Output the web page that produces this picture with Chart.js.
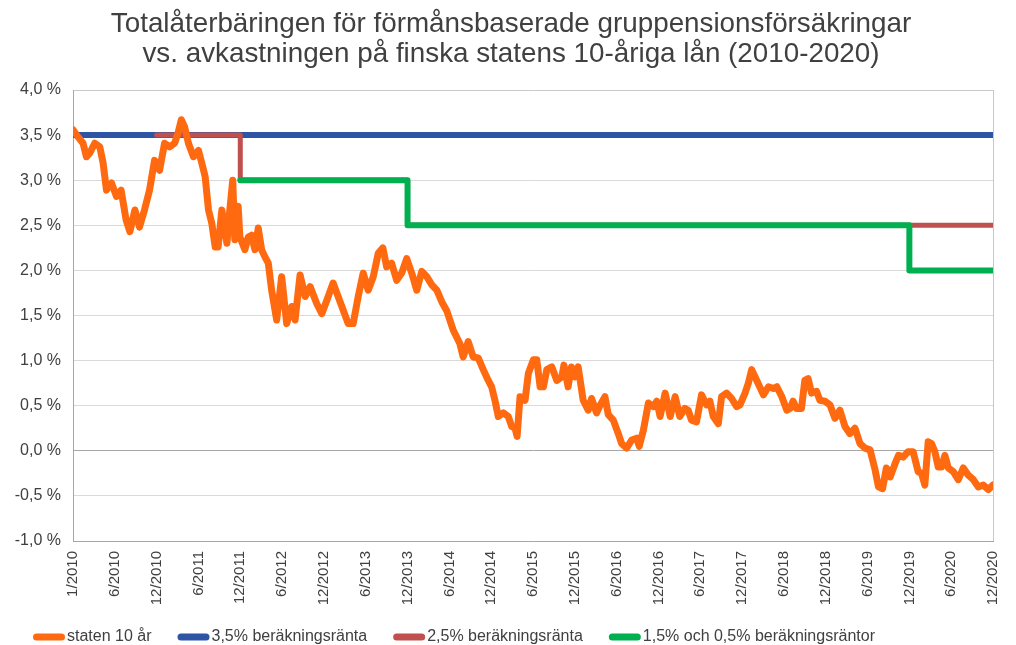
<!DOCTYPE html>
<html lang="sv">
<head>
  <meta charset="UTF-8" />
  <title>Totalåterbäringen vs. finska statens 10-åriga lån</title>
  <script src="https://cdn.jsdelivr.net/npm/chart.js"></script>
  <style>
    * { margin: 0; padding: 0; box-sizing: border-box; }
    html, body { width: 1016px; height: 645px; background: #fff; overflow: hidden; }
    #wrap { position: relative; width: 1016px; height: 645px; }
  </style>
</head>
<body>
  <div id="wrap">
    <canvas id="chart" width="1016" height="645"></canvas>
  </div>

  <script>
    const titleLines = ['Totalåterbäringen för förmånsbaserade gruppensionsförsäkringar',
      'vs. avkastningen på finska statens 10-åriga lån (2010-2020)'];

    // x axis: one unit = one label step (half a year), 1/2010 = 0 ... 12/2020 = 22
    const xLabels = ['1/2010', '6/2010', '12/2010', '6/2011', '12/2011', '6/2012', '12/2012',
      '6/2013', '12/2013', '6/2014', '12/2014', '6/2015', '12/2015', '6/2016', '12/2016',
      '6/2017', '12/2017', '6/2018', '12/2018', '6/2019', '12/2019', '6/2020', '12/2020'];

    // staten 10 år
    const bondPos = [0.00, 0.12, 0.24, 0.32, 0.40, 0.52, 0.64, 0.72, 0.80, 0.92, 1.04, 1.15, 1.27, 1.36,
      1.48, 1.59, 1.71, 1.83, 1.95, 2.07, 2.19, 2.31, 2.43, 2.51, 2.59, 2.67, 2.76, 2.88, 3.00, 3.08,
      3.16, 3.24, 3.32, 3.40, 3.47, 3.56, 3.68, 3.75, 3.82, 3.87, 3.95, 3.99, 4.11, 4.19, 4.27, 4.35,
      4.43, 4.51, 4.59, 4.67, 4.75, 4.87, 4.99, 5.11, 5.23, 5.31, 5.43, 5.55, 5.67, 5.83, 5.95, 6.07,
      6.22, 6.34, 6.46, 6.58, 6.70, 6.82, 6.94, 7.06, 7.18, 7.30, 7.41, 7.50, 7.62, 7.74, 7.86, 7.98,
      8.10, 8.22, 8.34, 8.46, 8.58, 8.70, 8.82, 8.94, 9.09, 9.25, 9.33, 9.45, 9.57, 9.69, 9.81, 9.93,
      10.01, 10.09, 10.17, 10.29, 10.41, 10.49, 10.57, 10.62, 10.69, 10.81, 10.89, 11.01, 11.09, 11.17,
      11.25, 11.33, 11.45, 11.57, 11.69, 11.74, 11.84, 11.92, 12.00, 12.08, 12.20, 12.32, 12.40, 12.52,
      12.60, 12.72, 12.80, 12.92, 13.04, 13.12, 13.24, 13.36, 13.48, 13.54, 13.64, 13.76, 13.88, 13.96,
      14.04, 14.16, 14.28, 14.40, 14.51, 14.63, 14.71, 14.79, 14.91, 15.03, 15.15, 15.23, 15.31, 15.43,
      15.51, 15.63, 15.75, 15.87, 15.95, 16.07, 16.15, 16.23, 16.35, 16.51, 16.63, 16.75, 16.83, 16.95,
      17.07, 17.15, 17.22, 17.30, 17.42, 17.50, 17.58, 17.66, 17.78, 17.86, 17.98, 18.10, 18.22, 18.34,
      18.46, 18.58, 18.70, 18.82, 18.94, 19.06, 19.18, 19.26, 19.36, 19.45, 19.54, 19.66, 19.74, 19.85,
      19.97, 20.09, 20.21, 20.29, 20.37, 20.45, 20.53, 20.61, 20.69, 20.77, 20.85, 20.93, 21.05, 21.17,
      21.29, 21.41, 21.53, 21.65, 21.77, 21.89, 22.00];
    const bondYield = [3.56, 3.48, 3.41, 3.26, 3.30, 3.41, 3.37, 3.19, 2.89, 2.97, 2.82, 2.89, 2.56, 2.43,
      2.67, 2.48, 2.67, 2.89, 3.22, 3.11, 3.41, 3.37, 3.41, 3.52, 3.67, 3.59, 3.41, 3.26, 3.33, 3.19,
      3.04, 2.67, 2.52, 2.26, 2.26, 2.67, 2.30, 2.67, 3.00, 2.34, 2.71, 2.37, 2.23, 2.37, 2.39, 2.23,
      2.47, 2.23, 2.15, 2.08, 1.78, 1.45, 1.93, 1.41, 1.60, 1.45, 1.95, 1.71, 1.82, 1.63, 1.52, 1.67,
      1.86, 1.71, 1.56, 1.41, 1.41, 1.71, 1.97, 1.78, 1.93, 2.19, 2.25, 2.04, 2.08, 1.89, 1.97, 2.13,
      1.97, 1.78, 1.99, 1.93, 1.84, 1.78, 1.65, 1.55, 1.34, 1.19, 1.04, 1.21, 1.04, 1.03, 0.90, 0.78,
      0.71, 0.56, 0.38, 0.42, 0.38, 0.27, 0.25, 0.16, 0.60, 0.56, 0.86, 1.01, 1.01, 0.71,
      0.71, 0.90, 0.93, 0.78, 0.82, 0.95, 0.71, 0.93, 0.82, 0.93, 0.56, 0.45, 0.58, 0.42,
      0.50, 0.60, 0.40, 0.34, 0.19, 0.08, 0.03, 0.12, 0.14, 0.05, 0.23, 0.53, 0.49, 0.55,
      0.38, 0.64, 0.38, 0.60, 0.38, 0.47, 0.45, 0.34, 0.32, 0.62, 0.51, 0.55, 0.38, 0.30,
      0.60, 0.64, 0.58, 0.49, 0.51, 0.64, 0.75, 0.90, 0.78, 0.62, 0.71, 0.69, 0.71, 0.60,
      0.45, 0.47, 0.55, 0.47, 0.47, 0.78, 0.80, 0.64, 0.66, 0.56, 0.55, 0.51, 0.36, 0.45,
      0.27, 0.19, 0.25, 0.08, 0.03, 0.01, -0.21, -0.40, -0.42, -0.19, -0.29, -0.14, -0.05, -0.07,
      -0.01, -0.01, -0.23, -0.25, -0.38, 0.10, 0.08, -0.01, -0.18, -0.18, -0.05, -0.19, -0.23, -0.32,
      -0.19, -0.27, -0.32, -0.40, -0.38, -0.43, -0.38];

    // beräkningsräntor: value holds from each position until the next one
    const rate35Pos = [0, 22];
    const rate35 = [3.5, 3.5];
    const rate25Pos = [2, 4, 8, 22];
    const rate25 = [3.5, 3.0, 2.5, 2.5];
    const rate15Pos = [4, 8, 20, 22];
    const rate15 = [3.0, 2.5, 2.0, 2.0];

    const FONT = '"Liberation Sans", Arial, sans-serif';
    const toPoints = (xs, ys) => xs.map((x, i) => ({ x: x, y: ys[i] }));

    // Two-line title centred on the whole picture
    const pageTitle = {
      id: 'pageTitle',
      afterDraw(chart) {
        const ctx = chart.ctx;
        ctx.save();
        ctx.font = '27.8px ' + FONT;
        ctx.fillStyle = '#404040';
        ctx.textAlign = 'center';
        ctx.textBaseline = 'middle';
        titleLines.forEach((t, i) => ctx.fillText(t, 511, 24 + i * 30));
        ctx.restore();
      }
    };

    // Legend drawn along the bottom edge, like the original
    const bottomLegend = {
      id: 'bottomLegend',
      afterDraw(chart) {
        const ctx = chart.ctx;
        ctx.save();
        ctx.font = '16px ' + FONT;
        ctx.textBaseline = 'middle';
        let x = 33;
        const y = 637;
        chart.data.datasets.forEach(ds => {
          ctx.strokeStyle = ds.borderColor;
          ctx.lineWidth = 7;
          ctx.lineCap = 'round';
          ctx.beginPath();
          ctx.moveTo(x + 3.5, y);
          ctx.lineTo(x + 28.5, y);
          ctx.stroke();
          ctx.fillStyle = '#404040';
          ctx.fillText(ds.label, x + 34, y);
          x += 34 + ctx.measureText(ds.label).width + 26;
        });
        ctx.restore();
      }
    };

    const lineDefaults = { pointRadius: 0, tension: 0, borderJoinStyle: 'round', borderCapStyle: 'round', fill: false };

    new Chart(document.getElementById('chart'), {
      type: 'line',
      data: {
        datasets: [
          { label: 'staten 10 år', data: toPoints(bondPos, bondYield), borderColor: '#ff6a10', borderWidth: 7, order: 0, ...lineDefaults },
          { label: '3,5% beräkningsränta', data: toPoints(rate35Pos, rate35), borderColor: '#2e54a6', borderWidth: 6, stepped: true, order: 3, ...lineDefaults },
          { label: '2,5% beräkningsränta', data: toPoints(rate25Pos, rate25), borderColor: '#c0504d', borderWidth: 5, stepped: true, order: 2, ...lineDefaults },
          { label: '1,5% och 0,5% beräkningsräntor', data: toPoints(rate15Pos, rate15), borderColor: '#00b050', borderWidth: 6, stepped: true, order: 1, ...lineDefaults }
        ]
      },
      options: {
        responsive: false,
        animation: false,
        layout: { padding: { left: 0, right: 23, top: 90, bottom: 30 } },
        plugins: {
          legend: { display: false },
          tooltip: { enabled: false },
          title: { display: false }
        },
        scales: {
          x: {
            type: 'linear',
            min: 0,
            max: 22,
            afterFit: (scale) => {
              scale.height = 74;
              scale.paddingLeft = 0;
              scale.paddingRight = 0;
            },
            ticks: {
              stepSize: 1,
              autoSkip: false,
              minRotation: 90,
              maxRotation: 90,
              padding: 10,
              color: '#404040',
              font: { family: FONT, size: 15 },
              callback: (v) => xLabels[v]
            },
            grid: {
              drawTicks: false,
              color: (c) => (c.tick && c.tick.value === 22) ? '#c8c8c8' : 'rgba(0,0,0,0)'
            },
            border: { display: true, color: '#a6a6a6' }
          },
          y: {
            min: -1,
            max: 4,
            afterFit: (scale) => { scale.width = 73; },
            ticks: {
              stepSize: 0.5,
              padding: 12,
              color: '#404040',
              font: { family: FONT, size: 16 },
              callback: (v) => v.toFixed(1).replace('.', ',') + ' %'
            },
            grid: {
              drawTicks: false,
              color: (c) => {
                const v = c.tick ? c.tick.value : null;
                if (v === 0) return '#a6a6a6';
                if (v === 4) return '#c8c8c8';
                return '#d9d9d9';
              }
            },
            border: { display: true, color: '#a6a6a6' }
          }
        }
      },
      plugins: [pageTitle, bottomLegend]
    });
  </script>
</body>
</html>
